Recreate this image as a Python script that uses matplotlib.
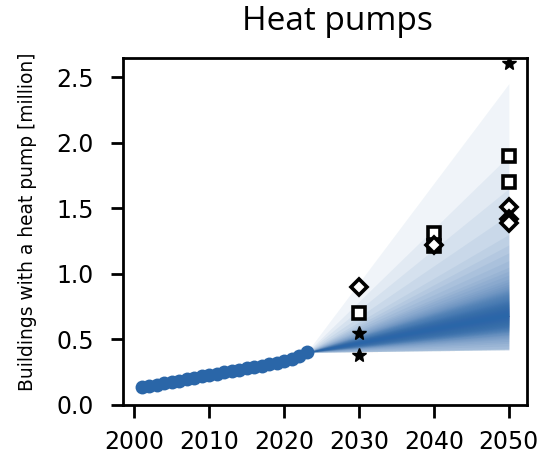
import matplotlib
matplotlib.use('Agg')
import matplotlib.pyplot as plt
import numpy as np

plt.rcParams['font.family'] = 'DejaVu Sans'

# historic stock of heat pumps [million]
years_hist = list(range(2001, 2024))
hp_hist = [0.135, 0.145, 0.155, 0.165, 0.175, 0.185, 0.195, 0.205, 0.217, 0.228,
           0.238, 0.249, 0.259, 0.269, 0.279, 0.290, 0.300, 0.310, 0.320, 0.333,
           0.350, 0.370, 0.400]

# projection fan: start point, median and quantile edges in 2050
fan_years = [2023, 2050]
fan_start = 0.40
fan_median_2050 = 0.68
fan_lower_2050 = [0.42, 0.42, 0.42, 0.42, 0.42, 0.425, 0.425, 0.43,
                  0.45, 0.47, 0.485, 0.50,
                  0.51, 0.52, 0.53, 0.535, 0.54, 0.55,
                  0.554, 0.558, 0.562, 0.566, 0.570, 0.574, 0.578, 0.582,
                  0.586, 0.590, 0.594, 0.597, 0.600,
                  0.605, 0.610, 0.615, 0.620, 0.625, 0.630, 0.635, 0.640,
                  0.645, 0.650, 0.655, 0.660, 0.664, 0.668, 0.672, 0.676,
                  0.678, 0.680]
fan_upper_2050 = [2.45, 1.90, 1.65, 1.45, 1.30, 1.22, 1.16, 1.10, 1.05, 1.02,
                  0.99, 0.96, 0.94, 0.92, 0.905, 0.89, 0.88,
                  0.872, 0.864, 0.856, 0.848, 0.840, 0.832, 0.824, 0.816,
                  0.808, 0.800,
                  0.795, 0.790, 0.785, 0.780, 0.775, 0.770, 0.765, 0.760,
                  0.755, 0.750, 0.745, 0.740, 0.735, 0.730, 0.725, 0.720,
                  0.715, 0.710, 0.705, 0.700, 0.695, 0.690]

# scenario targets
star_years = [2030, 2030, 2050]
star_vals = [0.55, 0.38, 2.61]
square_years = [2030, 2040, 2040, 2050, 2050]
square_vals = [0.70, 1.31, 1.21, 1.90, 1.70]
diamond_years = [2030, 2040, 2050, 2050, 2050]
diamond_vals = [0.90, 1.22, 1.51, 1.415, 1.39]

blue = '#2a66a8'

fig = plt.figure(figsize=(5.42, 4.57), dpi=100)
ax = fig.add_axes([0.227, 0.114, 0.745, 0.759])

# fan: lower half and upper half, stacked translucent bands
mid = [fan_start, fan_median_2050]
for lo in fan_lower_2050:
    ax.fill_between(fan_years, [fan_start, lo], mid,
                    color=blue, alpha=0.065, linewidth=0)
for hi in fan_upper_2050:
    ax.fill_between(fan_years, mid, [fan_start, hi],
                    color=blue, alpha=0.065, linewidth=0)

ax.scatter(years_hist, hp_hist, s=100, color=blue, zorder=3, linewidths=0)

ax.plot(square_years, square_vals, 's', ms=9, mfc='white', mec='black',
        mew=2.6, ls='none', zorder=4)
ax.plot(diamond_years, diamond_vals, 'D', ms=8.5, mfc='white', mec='black',
        mew=2.6, ls='none', zorder=4)
ax.plot(star_years, star_vals, '*', ms=10, color='black', ls='none', zorder=4)

ax.set_xlim(1998.5, 2052.4)
ax.set_ylim(0, 2.645)
ax.set_xticks([2000, 2010, 2020, 2030, 2040, 2050])
ax.set_yticks([0.0, 0.5, 1.0, 1.5, 2.0, 2.5])
ax.tick_params(labelsize=17, length=9, width=2)
ax.tick_params(axis='x', pad=9)
ax.tick_params(axis='y', pad=12)
for s in ax.spines.values():
    s.set_linewidth(2)
ax.set_ylabel('Buildings with a heat pump [million]', fontsize=13.4)
ax.yaxis.set_label_coords(-0.213, 0.529)

fig.text(0.622, 0.934, 'Heat pumps', fontsize=24, family='Open Sans',
         ha='center', va='baseline')

fig.savefig('out.png', dpi=100)
